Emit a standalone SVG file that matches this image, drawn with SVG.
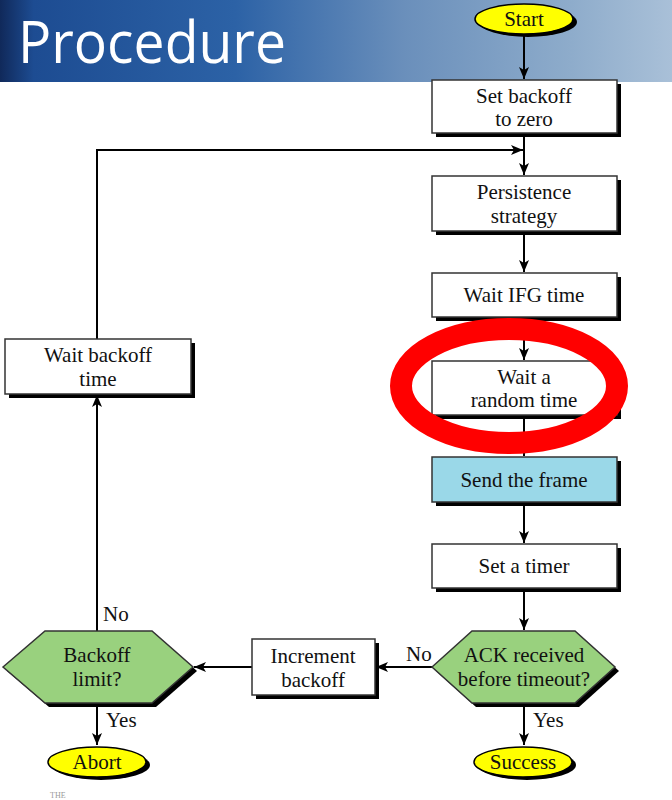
<svg xmlns="http://www.w3.org/2000/svg" width="672" height="800" viewBox="0 0 672 800">
<defs>
<linearGradient id="hdr" x1="0" y1="0" x2="1" y2="0">
<stop offset="0" stop-color="#10295a"/>
<stop offset="0.05" stop-color="#1d4c92"/>
<stop offset="0.35" stop-color="#2c62a6"/>
<stop offset="0.6" stop-color="#6a8fbb"/>
<stop offset="0.85" stop-color="#8eaccb"/>
<stop offset="1" stop-color="#a9c0d8"/>
</linearGradient>
<marker id="arr" viewBox="0 0 12 10" refX="12" refY="5" markerWidth="12" markerHeight="10" markerUnits="userSpaceOnUse" orient="auto">
<path d="M0,0 L12,5 L0,10 L3,5 Z" fill="#000"/>
</marker>
<style>
.box{fill:#fff;stroke:#333;stroke-width:1.5}
.sh{fill:#000}
.blue{fill:#9ad8e8;stroke:#333;stroke-width:1.5}
.hex{fill:#99d17e;stroke:#333;stroke-width:1.5}
.ell{fill:#ffff00;stroke:#000;stroke-width:1.5}
.t{font-family:"Liberation Serif","Times New Roman",serif;font-size:21px;fill:#111;text-anchor:middle}
.lbl{font-family:"Liberation Serif","Times New Roman",serif;font-size:21px;fill:#111}
.ln{fill:none;stroke:#000;stroke-width:2}
</style>
</defs>
<rect x="0" y="0" width="672" height="82" fill="url(#hdr)"/>
<text x="18" y="63" font-family="Open Sans, Liberation Sans, sans-serif" font-size="58" fill="#fff" textLength="268" lengthAdjust="spacingAndGlyphs">Procedure</text>

<g id="connectors">
<path class="ln" d="M524,35 V79" marker-end="url(#arr)"/>
<path class="ln" d="M524,133 V175" marker-end="url(#arr)"/>
<path class="ln" d="M97,339 V150 H523" marker-end="url(#arr)"/>
<path class="ln" d="M524,231 V272" marker-end="url(#arr)"/>
<path class="ln" d="M524,317 V360" marker-end="url(#arr)"/>
<path class="ln" d="M524,415 V456" marker-end="url(#arr)"/>
<path class="ln" d="M524,502 V543" marker-end="url(#arr)"/>
<path class="ln" d="M524,588 V630" marker-end="url(#arr)"/>
<path class="ln" d="M524,703 V745" marker-end="url(#arr)"/>
<path class="ln" d="M432,667 H376" marker-end="url(#arr)"/>
<path class="ln" d="M252,667 H194" marker-end="url(#arr)"/>
<path class="ln" d="M97,631 V395" marker-end="url(#arr)"/>
<path class="ln" d="M97,703 V745" marker-end="url(#arr)"/>
<text class="lbl" x="406" y="661">No</text>
<text class="lbl" x="533" y="727">Yes</text>
<text class="lbl" x="103" y="621">No</text>
<text class="lbl" x="106" y="727">Yes</text>
</g>

<g id="start">
<ellipse cx="528" cy="22" rx="49" ry="15" class="sh"/>
<ellipse cx="524" cy="19" rx="49" ry="15" class="ell"/>
<text class="t" x="524" y="26">Start</text>
</g>
<g id="set-backoff">
<rect x="436" y="84" width="185" height="53" class="sh"/>
<rect x="432" y="80" width="185" height="53" class="box"/>
<text class="t" x="524" y="103">Set backoff</text>
<text class="t" x="524" y="126">to zero</text>
</g>
<g id="persistence">
<rect x="436" y="180" width="185" height="55" class="sh"/>
<rect x="432" y="176" width="185" height="55" class="box"/>
<text class="t" x="524" y="199">Persistence</text>
<text class="t" x="524" y="223">strategy</text>
</g>
<g id="wait-ifg">
<rect x="436" y="277" width="185" height="44" class="sh"/>
<rect x="432" y="273" width="185" height="44" class="box"/>
<text class="t" x="524" y="302">Wait IFG time</text>
</g>
<g id="wait-random">
<rect x="436" y="365" width="185" height="54" class="sh"/>
<rect x="432" y="361" width="185" height="54" class="box"/>
<text class="t" x="524" y="384">Wait a</text>
<text class="t" x="524" y="407">random time</text>
</g>
<g id="send-frame">
<rect x="436" y="461" width="185" height="45" class="sh"/>
<rect x="432" y="457" width="185" height="45" class="blue"/>
<text class="t" x="524" y="487">Send the frame</text>
</g>
<g id="set-timer">
<rect x="436" y="548" width="185" height="44" class="sh"/>
<rect x="432" y="544" width="185" height="44" class="box"/>
<text class="t" x="524" y="573">Set a timer</text>
</g>
<g id="ack">
<polygon points="436,671 476,635 579,635 619,671 579,707 476,707" class="sh"/>
<polygon points="432,667 472,631 575,631 615,667 575,703 472,703" class="hex"/>
<text class="t" x="524" y="662">ACK received</text>
<text class="t" x="524" y="686">before timeout?</text>
</g>
<g id="success">
<ellipse cx="527" cy="765" rx="49" ry="15" class="sh"/>
<ellipse cx="523" cy="762" rx="49" ry="15" class="ell"/>
<text class="t" x="523" y="769">Success</text>
</g>
<g id="increment">
<rect x="256" y="643" width="123" height="56" class="sh"/>
<rect x="252" y="639" width="123" height="56" class="box"/>
<text class="t" x="313" y="663">Increment</text>
<text class="t" x="313" y="687">backoff</text>
</g>
<g id="backoff-limit">
<polygon points="7,671 49,635 156,635 197,671 156,707 49,707" class="sh"/>
<polygon points="3,667 45,631 152,631 193,667 152,703 45,703" class="hex"/>
<text class="t" x="97" y="662">Backoff</text>
<text class="t" x="97" y="686">limit?</text>
</g>
<g id="abort">
<ellipse cx="101" cy="765" rx="49" ry="15" class="sh"/>
<ellipse cx="97" cy="762" rx="49" ry="15" class="ell"/>
<text class="t" x="97" y="769">Abort</text>
</g>
<g id="wait-backoff">
<rect x="9" y="343" width="186" height="55" class="sh"/>
<rect x="5" y="339" width="186" height="55" class="box"/>
<text class="t" x="98" y="362">Wait backoff</text>
<text class="t" x="98" y="386">time</text>
</g>
<ellipse cx="509" cy="386" rx="108" ry="57" fill="none" stroke="#ff0000" stroke-width="22"/>
<text x="50" y="798" font-family="Liberation Serif, serif" font-size="8" fill="#999">THE</text>
</svg>
